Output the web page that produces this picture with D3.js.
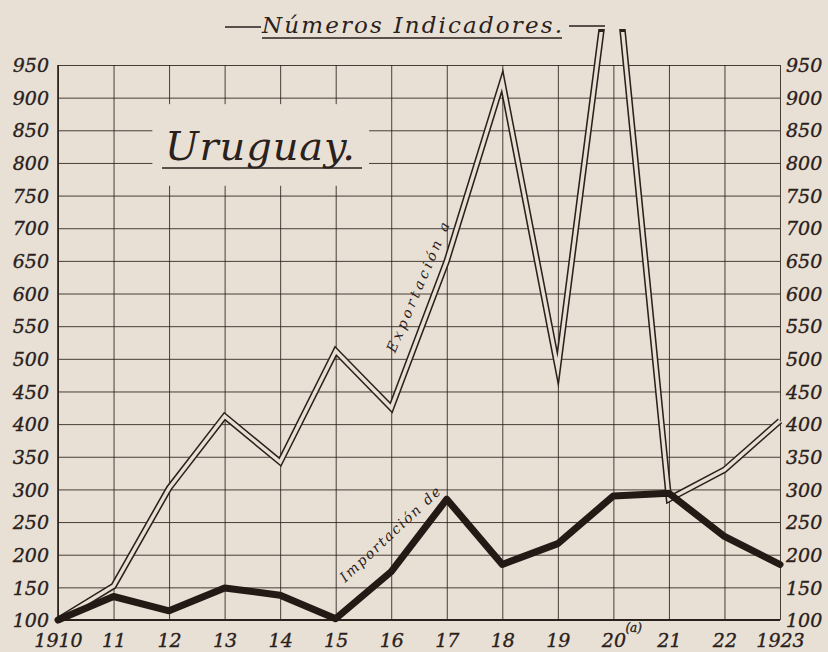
<!DOCTYPE html>
<html>
<head>
<meta charset="utf-8">
<script src="https://cdn.jsdelivr.net/npm/d3@7"></script>
<style>
  body { margin: 0; background: #e9e0d5; }
  svg { display: block; }
  .num { font-family: "DejaVu Serif", "Liberation Serif", serif; font-style: italic; font-size: 19px; fill: #2a211c; stroke: #2a211c; stroke-width: 0.35px; }
  .script { font-family: "DejaVu Serif", "Liberation Serif", serif; font-style: italic; fill: #2a211c; }
</style>
</head>
<body>
<div id="chart"></div>
<script>
// Números indicadores, Uruguay 1910-1923 (1910 = 100)
var years = [1910, 1911, 1912, 1913, 1914, 1915, 1916, 1917, 1918, 1919, 1920, 1921, 1922, 1923];
var exportacion = [100, 152, 302, 412, 342, 512, 425, 650, 925, 485, 1145, 285, 330, 405];
var importacion = [100, 136, 114, 149, 138, 102, 174, 285, 185, 217, 290, 294, 228, 185];
var yTicks = [100, 150, 200, 250, 300, 350, 400, 450, 500, 550, 600, 650, 700, 750, 800, 850, 900, 950];
var xLabels = ["1910", "11", "12", "13", "14", "15", "16", "17", "18", "19", "20", "21", "22", "1923"];

var width = 828, height = 652;
var bg = "#e9e0d5", ink = "#2a211c";

var x = d3.scaleLinear().domain([1910, 1923]).range([58, 780]);
var y = d3.scaleLinear().domain([100, 950]).range([620, 65]);

var svg = d3.select("#chart").append("svg")
  .attr("width", width)
  .attr("height", height);

svg.append("rect").attr("width", width).attr("height", height).attr("fill", bg);

// grid
var grid = svg.append("g");
grid.append("g")
  .attr("transform", "translate(" + x(1910) + ",0)")
  .call(d3.axisLeft(y).tickValues(yTicks).tickSize(-(x(1923) - x(1910))).tickFormat(""))
  .call(function (g) { g.select(".domain").remove(); });
grid.append("g")
  .attr("transform", "translate(0," + y(100) + ")")
  .call(d3.axisBottom(x).tickValues(years).tickSize(-(y(100) - y(950))).tickFormat(""))
  .call(function (g) { g.select(".domain").remove(); });
grid.selectAll("line").attr("stroke", ink).attr("stroke-width", 1).attr("stroke-opacity", 0.85);

// frame
svg.append("line").attr("x1", x(1910)).attr("x2", x(1923)).attr("y1", y(100)).attr("y2", y(100))
  .attr("stroke", ink).attr("stroke-width", 2.2);
svg.append("line").attr("x1", x(1910)).attr("x2", x(1910)).attr("y1", y(950)).attr("y2", y(100))
  .attr("stroke", ink).attr("stroke-width", 1.6);

// box behind "Uruguay."
svg.append("rect")
  .attr("x", x(1911.7)).attr("y", y(890))
  .attr("width", x(1915.6) - x(1911.7)).attr("height", y(765) - y(890))
  .attr("fill", bg);

// y labels, both sides
var left = svg.append("g").attr("transform", "translate(49,0)")
  .call(d3.axisLeft(y).tickValues(yTicks).tickSize(0).tickPadding(0));
var right = svg.append("g").attr("transform", "translate(786,0)")
  .call(d3.axisRight(y).tickValues(yTicks).tickSize(0).tickPadding(0));
[left, right].forEach(function (g) {
  g.select(".domain").remove();
  g.attr("font-family", null).attr("font-size", null);
  g.selectAll("text").attr("class", "num").attr("dy", "0.35em");
});

// x labels
var bottom = svg.append("g").attr("transform", "translate(0,647)")
  .call(d3.axisBottom(x).tickValues(years).tickSize(0).tickPadding(0)
    .tickFormat(function (d, i) { return xLabels[i]; }));
bottom.select(".domain").remove();
bottom.attr("font-family", null).attr("font-size", null);
bottom.selectAll("text").attr("class", "num").attr("dy", 0);
svg.append("text").attr("class", "num")
  .attr("x", x(1920) + 12).attr("y", 632)
  .style("font-size", "12px")
  .text("(a)");

// lines
var line = d3.line().x(function (d, i) { return x(years[i]); }).y(function (d) { return y(d); });

var defs = svg.append("defs");
defs.append("clipPath").attr("id", "clipOuter")
  .append("rect").attr("x", 0).attr("y", 29).attr("width", width).attr("height", height);
defs.append("clipPath").attr("id", "clipInner")
  .append("rect").attr("x", 0).attr("y", 32).attr("width", width).attr("height", height);

svg.append("path").datum(exportacion)
  .attr("d", line)
  .attr("fill", "none").attr("stroke", ink).attr("stroke-width", 6.5)
  .attr("stroke-linejoin", "miter").attr("stroke-miterlimit", 8)
  .attr("clip-path", "url(#clipOuter)");
svg.append("path").datum(exportacion)
  .attr("d", line)
  .attr("fill", "none").attr("stroke", bg).attr("stroke-width", 3.4)
  .attr("stroke-linejoin", "miter").attr("stroke-miterlimit", 8)
  .attr("clip-path", "url(#clipInner)");

svg.append("path").datum(importacion)
  .attr("d", line)
  .attr("fill", "none").attr("stroke", "#231a16").attr("stroke-width", 7)
  .attr("stroke-linejoin", "round").attr("stroke-linecap", "round");

// labels along the lines
svg.append("text").attr("class", "script")
  .attr("transform", "translate(" + x(1916.07) + "," + y(508) + ") rotate(-67)")
  .attr("font-size", 14).attr("textLength", 140).attr("lengthAdjust", "spacing")
  .text("Exportación  a");
svg.append("text").attr("class", "script")
  .attr("transform", "translate(" + x(1915.17) + "," + y(157) + ") rotate(-43)")
  .attr("font-size", 14).attr("textLength", 132).attr("lengthAdjust", "spacing")
  .text("Importación de");

// titles
svg.append("text").attr("class", "script")
  .attr("x", 262).attr("y", 33).attr("font-size", 23)
  .attr("textLength", 300).attr("lengthAdjust", "spacing")
  .text("Números Indicadores.");
svg.append("line").attr("x1", 262).attr("x2", 562).attr("y1", 38).attr("y2", 38).attr("stroke", ink).attr("stroke-width", 1.4);
svg.append("line").attr("x1", 225).attr("x2", 261).attr("y1", 27).attr("y2", 27).attr("stroke", ink).attr("stroke-width", 1.6);
svg.append("line").attr("x1", 569).attr("x2", 605).attr("y1", 26).attr("y2", 26).attr("stroke", ink).attr("stroke-width", 1.6);

svg.append("text").attr("class", "script")
  .attr("x", 165).attr("y", 160).attr("font-size", 40)
  .attr("textLength", 190).attr("lengthAdjust", "spacing")
  .text("Uruguay.");
svg.append("line").attr("x1", 162).attr("x2", 362).attr("y1", 168).attr("y2", 168).attr("stroke", ink).attr("stroke-width", 1.6);
</script>
</body>
</html>
